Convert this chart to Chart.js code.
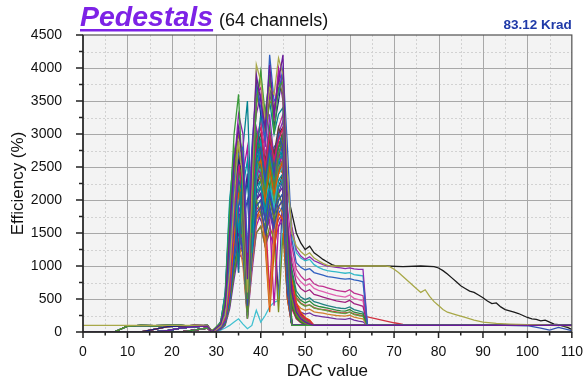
<!DOCTYPE html>
<html>
<head>
<meta charset="utf-8">
<script src="https://cdn.jsdelivr.net/npm/chart.js@4.4.1/dist/chart.umd.min.js"></script>
<style>
html,body{margin:0;padding:0;background:#ffffff;}
#wrap{width:587px;height:378px;position:relative;}
</style>
</head>
<body>
<div id="wrap"><canvas id="c" width="587" height="378"></canvas></div>
<script>
// ---------- DATA ----------
const TITLE_MAIN = "Pedestals";
const TITLE_SUB = "(64 channels)";
const DOSE_LABEL = "83.12 Krad";
const X_TITLE = "DAC value";
const Y_TITLE = "Efficiency (%)";

const X_TICKS = [0,10,20,30,40,50,60,70,80,90,100,110];
const Y_TICKS = [0,500,1000,1500,2000,2500,3000,3500,4000,4500];

// low-DAC region (DAC 0..28)
const DAC_PRE = [0,7,10,13,16,19,22,25,28];
const PRE_PROFILES = [
  [0,0,90,100,95,100,100,90,100],
  [100,100,100,100,100,100,100,100,100],
  [0,0,0,0,40,80,90,100,95],
  [0,0,0,0,0,20,60,80,90],
  [0,0,0,0,0,0,0,30,60]
];
const PRE_TYPE = [
  3,1,4,3,4,3,2,4, 3,
  4,3,0,4,3,2,4,3,0,3,4,2,3,4,3,0,4,3,2,4,3,4,0,3,4,2,3,4,3,0,4,3,
  0,3,4,2,3,4,0,3,4,3,2,4,3,0,4,
  3,4,2,3,0,4,3,4
];

// main burst, DAC 29..47 (one row per channel)
const BURST_DAC_START = 29;
const TALL = [
  [0,60,120,400,1500,2600,3100,2500,800,2600,3900,3500,3100,4050,3300,3800,4200,1700,100],
  [0,40,90,250,900,2000,2900,2300,600,2200,4050,3800,3200,3700,3600,4150,3900,2400,1500],
  [10,80,150,500,1800,3000,3600,2100,500,1900,3500,3950,3300,3900,3000,3700,3800,1400,100],
  [0,50,100,300,1100,2300,2700,2800,1200,2800,3700,3400,2900,4200,3500,3600,4000,2800,1800],
  [0,30,80,200,700,1800,2500,2600,900,2400,3600,3700,3300,3800,3200,4000,3700,1300,100],
  [20,70,130,350,1300,2400,3000,2700,700,2300,3400,3900,3000,3500,3400,3800,3600,1600,100],
  [0,40,100,280,1000,2100,2600,2400,1000,2500,3800,3300,3100,3900,3100,3500,3950,1500,100],
  [0,60,110,320,1200,2500,3300,3000,1100,2700,3300,3600,2800,3600,3300,3900,3500,1200,100],
  [0,30,80,300,1600,2200,900,2800,3500,1500,2600,3300,2900,3500,3000,3300,3400,1100,100]
];
const MEDIUM = [
  [0,40,100,350,1300,2200,2600,2000,500,1800,2900,3100,2500,3000,2600,2900,3100,1200,100],
  [0,20,60,200,800,1700,2300,2100,400,1600,2700,2800,2300,2800,2400,3000,2800,900,100],
  [10,60,120,500,1600,2500,2200,1800,300,1500,2600,2500,2100,2600,2200,2700,2900,1000,100],
  [0,30,90,250,900,1900,2400,2500,700,2000,3000,2700,2400,3100,2500,2800,3000,1400,900],
  [0,50,150,600,2000,2700,1500,2200,2600,1200,2400,2900,2200,2700,2300,2600,2700,800,100],
  [0,20,70,180,600,1400,2100,2200,500,1700,2500,2600,2000,2500,2100,2400,2600,900,100],
  [0,40,110,400,1400,2300,2700,2000,350,1900,2800,3000,2600,2900,2700,3100,2900,1100,100],
  [0,30,80,260,1000,2000,2500,2300,600,2100,3100,2800,2500,3300,2600,3000,3200,2300,1600],
  [20,60,140,550,1900,2800,2400,1400,200,1300,2400,2600,2200,2400,2000,2500,2600,1300,850],
  [0,20,60,150,500,1200,1900,2300,900,2200,2900,2500,2300,2700,2800,2900,2700,1000,100],
  [0,40,100,320,1200,2100,2500,2200,450,1800,2700,2900,2400,2200,2600,2800,3000,1200,100],
  [0,30,90,280,1100,2000,900,2400,2800,1400,2300,2700,2600,2900,2300,2700,2500,900,100],
  [0,50,130,450,1500,2400,2800,1900,300,1600,2600,2700,2000,2600,2400,2900,2800,1000,100],
  [0,20,80,230,850,1800,2300,2100,550,1900,2800,2600,2300,2900,2500,2700,2900,1600,1050],
  [10,50,120,420,1400,2300,2100,1700,250,1400,2500,2400,2100,2500,2200,2600,2700,900,100],
  [0,30,70,210,750,1600,2200,2400,800,2000,2600,2800,2200,2700,2600,2500,2800,1100,100],
  [0,40,100,350,1250,2200,2600,2300,650,2100,2900,3200,2700,3000,2400,3100,3300,1900,1300],
  [0,20,60,170,600,1500,2000,1900,400,1500,2300,2500,2000,2300,1900,2400,2500,2200,1500],
  [0,30,90,300,1100,2000,2300,1800,350,1700,2600,2400,2500,2800,2100,2600,2700,1000,100],
  [0,50,140,500,1700,2500,1200,1900,2400,1300,2200,2600,2300,2600,2200,2400,2600,850,100],
  [0,30,80,240,900,1800,2400,2200,500,1800,2700,2900,2300,2600,2500,2800,2600,950,100],
  [0,20,70,200,700,1500,2100,2300,700,1900,2600,2700,2400,2700,2300,2700,2800,1700,1150],
  [0,40,110,380,1300,2100,2500,2000,400,1700,2500,2700,2100,2700,2400,2600,2900,1000,100],
  [0,30,100,300,1000,1900,2200,2000,300,1500,2400,2500,2200,2500,2000,2500,2600,900,100],
  [0,20,60,190,650,1400,2000,2100,600,1800,2700,2600,2400,2800,2400,2700,2700,1100,100],
  [10,60,160,580,1800,2600,2300,1600,250,1400,2500,2800,2300,2600,2300,2800,2900,1000,100],
  [0,30,80,260,950,1900,2400,2300,550,2000,2800,2600,2200,2900,2600,3000,2800,1500,950],
  [0,40,100,330,1150,2000,2300,1900,450,1600,2400,2600,2400,2700,2200,2500,2700,850,100],
  [0,20,70,220,800,1700,2200,2000,350,1600,2500,2300,2000,2400,2100,2500,2400,800,100],
  [0,30,90,290,1050,2000,2600,2400,700,2100,3000,2900,2500,3000,2700,3000,3100,2100,1400],
  [0,20,60,180,550,1300,1800,2000,600,1700,2400,2500,2100,2500,2200,2400,2500,900,100],
  [0,40,120,400,1400,2200,1100,1800,2300,1200,2300,2500,2000,2400,2100,2500,2600,800,100]
];
const LOW = [
  [0,20,60,150,500,1100,1500,1300,300,1200,1900,2000,1700,2100,1800,2000,2100,700,100],
  [0,30,80,220,700,1300,1600,1200,250,1100,1800,1900,1500,1900,1600,1900,2000,600,100],
  [0,20,50,120,400,900,1300,1400,400,1300,2000,1800,1600,2000,1700,2100,1900,800,100],
  [0,40,90,300,900,1500,1400,1000,200,1000,1700,1800,1400,400,1500,1900,1800,1100,700],
  [0,20,60,160,550,1100,1500,1500,500,1400,2100,2200,1800,2200,1900,2200,2300,900,100],
  [0,30,70,200,650,1200,1700,1400,300,1100,1700,1900,1300,300,1200,1800,1700,500,100],
  [0,20,40,100,350,800,1200,1300,350,1200,1800,1700,1500,1800,1500,1700,1800,900,600],
  [0,30,80,230,750,1400,1800,1500,300,1300,2000,2100,1700,2000,1800,2100,2200,800,100],
  [0,20,60,180,600,1200,1600,1400,250,1200,1900,1800,1500,500,1300,1900,2000,1200,800],
  [0,30,90,260,800,1400,1700,1300,200,1100,1800,1700,1600,1900,1500,1800,1900,600,100],
  [0,20,50,140,450,1000,1400,1300,300,1200,1900,2000,1400,1800,1600,2000,2100,750,100],
  [0,30,70,210,700,1300,1600,1200,300,1000,1600,1800,1500,1700,400,1600,1800,600,100],
  [0,20,60,170,500,1000,1300,1200,250,1000,1500,1600,1300,1600,1400,300,1500,500,100],
  [0,10,30,60,100,150,200,120,50,100,330,150,250,380,450,480,1800,900,100],
  [0,20,50,130,400,900,1200,1100,200,900,1500,1600,1300,1500,1300,1600,1700,500,100]
];
const MIDLOW = [
  [0,30,80,240,850,1600,2000,1800,400,1500,2200,2300,1900,2300,2000,2300,2400,800,100],
  [0,20,60,190,650,1400,1900,1700,350,1400,2100,2200,1800,600,1900,2200,2300,700,100],
  [0,40,100,330,1100,1800,1300,1700,2000,1100,2000,2200,1800,2200,1800,2100,2300,750,100],
  [0,30,70,220,750,1500,2000,1900,450,1600,2300,2400,2000,2400,2100,2400,2500,900,100],
  [0,20,60,170,600,1300,1800,1700,300,1300,2000,2100,1700,2100,1700,500,2200,800,100],
  [0,30,90,280,950,1700,2100,1700,350,1400,2100,2300,1900,2200,1900,2300,2300,700,100],
  [0,20,70,200,700,1500,2100,2000,500,1700,2400,2300,2100,2500,2200,2500,2400,1000,100],
  [0,40,110,360,1200,1900,2200,1700,300,1300,2200,2400,2000,2300,1800,2200,2400,700,100]
];

// short decays after the burst, DAC 47..52
const SHORT_DAC_START = 47;
const SHORT_TAIL_CHANNELS = [0,5,9,11,14,19,21,24,28,33,36,40,45,51,56,59];
const SHORT_TAIL_VALUES = [
  [600,300,200,150,120,100],
  [500,280,180,130,110,100],
  [700,400,260,200,160,100],
  [450,250,170,140,100,100],
  [800,450,300,220,180,100],
  [400,220,150,120,100,100],
  [650,350,240,180,140,100],
  [550,300,200,160,120,100],
  [750,420,280,210,170,100],
  [350,200,140,110,100,100],
  [600,330,230,170,130,100],
  [480,270,190,150,110,100],
  [520,290,200,160,120,100],
  [380,210,150,120,100,100],
  [700,380,250,190,150,100],
  [450,240,170,130,100,100]
];

// long tails after the burst, DAC 47..64
const TAIL_DAC_START = 47;
const TAIL_CHANNELS = [38,1,16,26,3,25,30,22,35,12,17,44,47,49];
const TAIL_VALUES = [
  [1800,1500,1350,1250,1300,1200,1150,1100,1060,1020,1000,1000,1000,1000,1000,1000,1000,1000],
  [1500,1300,1220,1160,1200,1120,1080,1040,1010,1000,1000,1000,1000,1000,1000,1000,1000,1000],
  [1600,1250,1150,1100,1140,1080,1050,1020,1000,990,980,970,960,970,955,950,950,100],
  [1500,1200,1120,1080,1100,1020,980,950,930,920,910,900,890,900,870,860,850,100],
  [1400,1050,980,940,960,900,880,860,840,830,820,810,800,810,790,780,760,100],
  [1300,950,850,780,810,730,700,690,670,650,630,620,610,640,590,570,550,100],
  [1150,850,760,700,730,660,630,610,590,570,550,540,530,560,510,490,470,100],
  [1050,750,660,610,640,570,550,530,510,490,470,460,450,480,430,410,390,100],
  [950,620,530,490,520,460,440,420,400,385,370,360,355,380,340,320,300,100],
  [900,560,480,440,470,410,390,375,360,345,330,320,315,340,300,285,270,100],
  [850,500,430,390,410,360,345,335,320,305,295,285,280,300,265,250,235,100],
  [700,430,360,330,345,305,295,285,270,260,250,245,240,255,225,210,200,100],
  [600,360,300,270,290,250,240,230,220,210,200,195,190,205,180,165,155,100],
  [800,520,440,400,410,370,350,340,330,315,305,295,290,300,275,260,245,230]
];

// long tails beyond DAC 64
const BLACK_CH = 38;
const BLACK_EXT_X = [68,72,76,79,80,81,82,83,84,85,86,87,88,89,90,91,92,93,94,95,96,97,98,99,100,101,102,103,104,105,106,107,108,109,110];
const BLACK_EXT_Y = [1000,990,1000,990,970,930,880,820,760,700,660,620,600,560,520,470,430,440,380,340,320,300,280,250,220,200,190,170,180,150,120,110,90,70,40];
const OLIVE_CH = 1;
const OLIVE_EXT_X = [66,68,69,70,71,72,73,74,75,76,77,78,79,80,81,82,84,86,88,90,93,96,100,105,110];
const OLIVE_EXT_Y = [1000,1000,990,950,900,840,780,720,660,600,640,540,460,400,340,300,260,220,180,150,130,120,110,100,95];
const RED_CH = 49;
const RED_EXT_X = [66,68,70,72,74,110];
const RED_EXT_Y = [200,170,140,115,100,100];
const BLUE_CH = 41;
const BLUE_EXT_X = [49,95,100,103,105,107,110];
const BLUE_EXT_Y = [100,100,95,60,30,70,20];
const BASELINE = 100;

// ---------- STYLE ----------
const PALETTE = ['#6a1b9a','#c2185b','#1e4fc8','#2e7d32','#b0179e','#7a8a20','#1a237e','#8e24aa',
                 '#00838f','#d81b60','#3949ab','#558b2f','#4a148c','#0097a7','#e65100','#5d4037'];
const TAIL_COLORS = ['#1a1a1a','#a8a848','#8b2bb0','#30b8c8','#3060c0','#c03090','#e060b0','#a02080',
                     '#208080','#2e8b3e','#60a040','#d08030','#7030a0','#d03040'];
const OVERRIDE_CH = [2,54];
const OVERRIDE_COLORS = ['#3a9a3a','#40c0d0'];
const BLUE_COLOR = '#3050b0';
const FONT = '"Liberation Sans", Arial, Helvetica, sans-serif';

// ---------- BUILD ----------
const BURST = TALL.concat(MEDIUM, LOW, MIDLOW);
function pointsFor(i){
  const pts = [];
  const pre = PRE_PROFILES[PRE_TYPE[i]];
  DAC_PRE.forEach((x,k)=>pts.push({x:x, y:pre[k]}));
  const row = BURST[i];
  const t = TAIL_CHANNELS.indexOf(i);
  const s = SHORT_TAIL_CHANNELS.indexOf(i);
  const n = (t >= 0 || s >= 0) ? TAIL_DAC_START - BURST_DAC_START : row.length;
  for (let k=0;k<n;k++) pts.push({x:BURST_DAC_START+k, y:row[k]});
  if (t >= 0) {
    TAIL_VALUES[t].forEach((v,k)=>pts.push({x:TAIL_DAC_START+k, y:v}));
    let ex = null, ey = null;
    if (i===BLACK_CH){ex=BLACK_EXT_X;ey=BLACK_EXT_Y;}
    else if (i===OLIVE_CH){ex=OLIVE_EXT_X;ey=OLIVE_EXT_Y;}
    else if (i===RED_CH){ex=RED_EXT_X;ey=RED_EXT_Y;}
    if (ex) ex.forEach((x,k)=>pts.push({x:x,y:ey[k]}));
    else pts.push({x:110,y:BASELINE});
  } else {
    if (s >= 0) SHORT_TAIL_VALUES[s].forEach((v,k)=>pts.push({x:SHORT_DAC_START+k, y:v}));
    if (i===BLUE_CH) BLUE_EXT_X.forEach((x,k)=>pts.push({x:x,y:BLUE_EXT_Y[k]}));
    else pts.push({x:110,y:BASELINE});
  }
  return pts;
}
function colorFor(i){
  const t = TAIL_CHANNELS.indexOf(i);
  if (t >= 0) return TAIL_COLORS[t];
  const o = OVERRIDE_CH.indexOf(i);
  if (o >= 0) return OVERRIDE_COLORS[o];
  if (i === BLUE_CH) return BLUE_COLOR;
  return PALETTE[i % PALETTE.length];
}
const datasets = BURST.map((row,i)=>{
  const col = colorFor(i);
  return {label:'ch'+i, data:pointsFor(i), borderColor:col, backgroundColor:col,
          borderWidth:1.3, pointRadius:0, tension:0, fill:false};
});

const framePlugin = {
  id:'frame',
  beforeDatasetsDraw(chart){
    const {ctx, chartArea:a, scales:{x,y}} = chart;
    ctx.save();
    ctx.fillStyle='#f3f3f3';
    ctx.fillRect(a.left,a.top,a.right-a.left,a.bottom-a.top);
    ctx.lineWidth=1;
    ctx.strokeStyle='#d2d2d2'; ctx.setLineDash([2,2]);
    ctx.beginPath();
    for (let i=0;i<X_TICKS.length-1;i++){
      const px=Math.round(x.getPixelForValue((X_TICKS[i]+X_TICKS[i+1])/2))+0.5;
      ctx.moveTo(px,a.top); ctx.lineTo(px,a.bottom);
    }
    for (let i=0;i<Y_TICKS.length-1;i++){
      const py=Math.round(y.getPixelForValue((Y_TICKS[i]+Y_TICKS[i+1])/2))+0.5;
      ctx.moveTo(a.left,py); ctx.lineTo(a.right,py);
    }
    ctx.stroke();
    ctx.setLineDash([]);
    ctx.strokeStyle='#a8a8a8';
    ctx.beginPath();
    X_TICKS.slice(1,-1).forEach(v=>{const px=Math.round(x.getPixelForValue(v))+0.5; ctx.moveTo(px,a.top); ctx.lineTo(px,a.bottom);});
    Y_TICKS.slice(1,-1).forEach(v=>{const py=Math.round(y.getPixelForValue(v))+0.5; ctx.moveTo(a.left,py); ctx.lineTo(a.right,py);});
    ctx.stroke();
    ctx.restore();
  },
  afterDatasetsDraw(chart){
    const {ctx, chartArea:a, scales:{x,y}} = chart;
    ctx.save();
    ctx.strokeStyle='#505050'; ctx.lineWidth=1.2;
    ctx.strokeRect(a.left,a.top,a.right-a.left,a.bottom-a.top);
    ctx.strokeStyle='#222'; ctx.lineWidth=1.5;
    ctx.beginPath();
    ctx.moveTo(a.left,a.top); ctx.lineTo(a.left,a.bottom); ctx.lineTo(a.right,a.bottom);
    X_TICKS.forEach((v,i)=>{
      const px=x.getPixelForValue(v); ctx.moveTo(px,a.bottom); ctx.lineTo(px,a.bottom+6);
      if (i<X_TICKS.length-1){const pm=x.getPixelForValue((v+X_TICKS[i+1])/2); ctx.moveTo(pm,a.bottom); ctx.lineTo(pm,a.bottom+3.5);}
    });
    Y_TICKS.forEach((v,i)=>{
      const py=y.getPixelForValue(v); ctx.moveTo(a.left,py); ctx.lineTo(a.left-7,py);
      if (i<Y_TICKS.length-1){const pm=y.getPixelForValue((v+Y_TICKS[i+1])/2); ctx.moveTo(a.left,pm); ctx.lineTo(a.left-4,pm);}
    });
    ctx.stroke();
    ctx.restore();
  },
  afterDraw(chart){
    const {ctx, chartArea:a} = chart;
    ctx.save();
    ctx.textBaseline='alphabetic';
    ctx.font='italic bold 28.5px '+FONT;
    ctx.fillStyle='#7d22e6';
    const x0=80, base=26;
    ctx.fillText(TITLE_MAIN,x0,base);
    const w=ctx.measureText(TITLE_MAIN).width;
    ctx.fillRect(x0,base+3,w,2.5);
    ctx.font='18px '+FONT;
    ctx.fillStyle='#111';
    ctx.fillText(TITLE_SUB,x0+w+6,base);
    ctx.font='bold 13.5px '+FONT;
    ctx.fillStyle='#1f3aa8';
    ctx.textAlign='right';
    ctx.fillText(DOSE_LABEL,a.right,29);
    ctx.restore();
  }
};

new Chart(document.getElementById('c'), {
  type:'line',
  data:{datasets:datasets},
  options:{
    responsive:false, animation:false, devicePixelRatio:1,
    layout:{padding:{top:35,right:11,bottom:0,left:0}},
    plugins:{legend:{display:false},tooltip:{enabled:false},title:{display:false}},
    scales:{
      x:{type:'linear',min:0,max:110,
         afterFit(s){s.height=46;},
         afterBuildTicks(s){s.ticks=X_TICKS.map(v=>({value:v}));},
         grid:{display:false}, border:{display:false},
         ticks:{padding:4,color:'#111',font:{family:FONT,size:14},maxRotation:0,autoSkip:false,callback:v=>String(v)},
         title:{display:true,text:X_TITLE,color:'#111',font:{family:FONT,size:17,lineHeight:1},padding:{top:0,bottom:-2}}},
      y:{type:'linear',min:0,max:4500,
         afterFit(s){s.width=83;},
         afterBuildTicks(s){s.ticks=Y_TICKS.map(v=>({value:v}));},
         grid:{display:false}, border:{display:false},
         ticks:{padding:13,color:'#111',font:{family:FONT,size:14},autoSkip:false,callback:v=>String(v)},
         title:{display:true,text:Y_TITLE,color:'#111',font:{family:FONT,size:17,lineHeight:1},padding:{top:10,bottom:0}}}
    }
  },
  plugins:[framePlugin]
});
</script>
</body>
</html>
